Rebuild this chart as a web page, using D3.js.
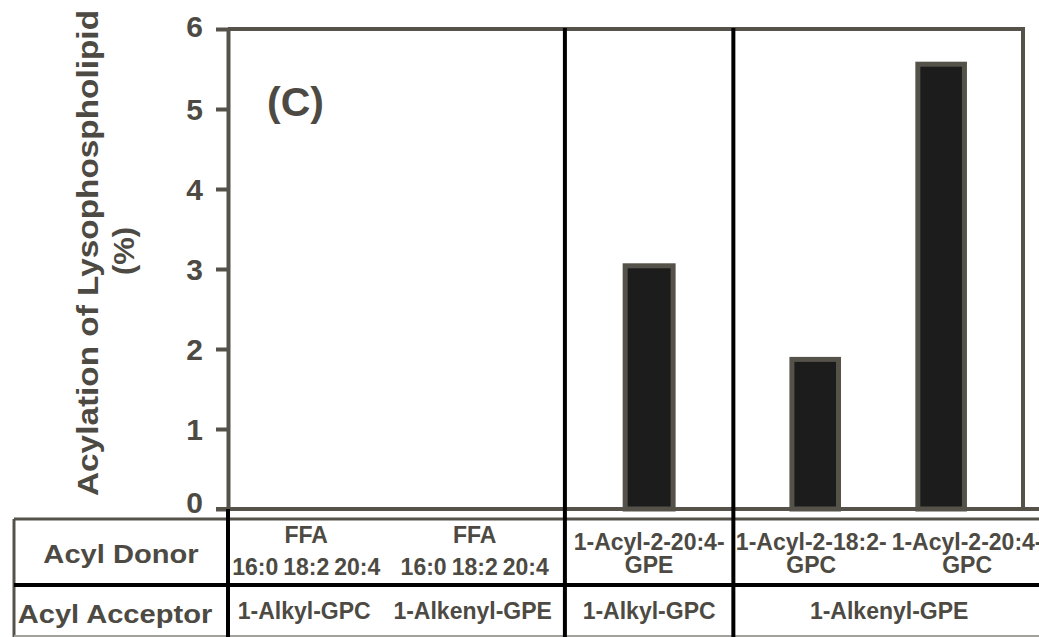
<!DOCTYPE html>
<html>
<head>
<meta charset="utf-8">
<script src="https://cdnjs.cloudflare.com/ajax/libs/d3/7.8.5/d3.min.js"></script>
<style>
  html, body { margin: 0; padding: 0; background: #fff; }
  svg { display: block; }
  text { font-family: "Liberation Sans", Arial, Helvetica, sans-serif; font-weight: bold; fill: #4d4a43; }
</style>
</head>
<body>
<script>
// one entry per acceptor section, left to right
var acceptors = ["1-Alkyl-GPC", "1-Alkenyl-GPE", "1-Alkyl-GPC", "1-Alkenyl-GPE"];
var donorHeads = ["FFA", "FFA", "", ""];
var donors = [
  ["16:0", "18:2", "20:4"],
  ["16:0", "18:2", "20:4"],
  ["1-Acyl-2-20:4-GPE"],
  ["1-Acyl-2-18:2-GPC", "1-Acyl-2-20:4-GPC"]
];
var values = [
  [0, 0, 0],
  [0, 0, 0],
  [3.04],
  [1.87, 5.56]
];
var yTicks = [0, 1, 2, 3, 4, 5, 6];
var rowHeads = ["Acyl Donor", "Acyl Acceptor"];
var yTitle = "Acylation of Lysophospholipid",
    yUnit = "(%)",
    panelLabel = "(C)";

var width = 1039, height = 637,
    plotLeft = 228, plotRight = 1023, plotTop = 29, plotBottom = 509,
    tableLeft = 14, tableRight = 1045, tableTop = 519, rowSplit = 585, tableBottom = 636,
    sectionWeights = [1, 1, 1, 1.85],
    grey = "#55524a", ink = "#4d4a43";

var svg = d3.select("body").append("svg")
    .attr("width", width)
    .attr("height", height);

var y = d3.scaleLinear().domain([0, 6]).range([plotBottom, plotTop]);

var edges = [0].concat(Array.from(d3.cumsum(sectionWeights)));
var xs = d3.scaleLinear().domain([0, d3.sum(sectionWeights)]).range([plotLeft, tableRight]);

var sections = acceptors.map(function(a, i) {
  var x0 = xs(edges[i]), x1 = xs(edges[i + 1]);
  return {
    acceptor: a,
    head: donorHeads[i],
    donors: donors[i],
    values: values[i],
    x0: x0, x1: x1,
    bars: d3.scaleBand().domain(donors[i]).range([x0, Math.min(x1, plotRight)])
            .paddingInner(0.63).paddingOuter(0.465),
    cells: d3.scaleBand().domain(donors[i]).range([x0, x1])
  };
});

var bars = [];
sections.forEach(function(s) {
  s.donors.forEach(function(d, j) {
    if (s.values[j] > 0) bars.push({x: s.bars(d), w: s.bars.bandwidth(), v: s.values[j]});
  });
});

// bars
svg.append("g").selectAll("rect")
  .data(bars)
  .enter().append("rect")
  .attr("x", function(d) { return d.x; })
  .attr("y", function(d) { return y(d.v); })
  .attr("width", function(d) { return d.w; })
  .attr("height", function(d) { return y(0) - y(d.v); })
  .attr("fill", "#1c1c1c")
  .attr("stroke", grey)
  .attr("stroke-width", 5);

// plot frame
var frame = svg.append("g").attr("stroke", grey).attr("stroke-width", 4);
frame.append("line").attr("x1", plotLeft).attr("x2", plotRight + 2).attr("y1", plotTop).attr("y2", plotTop);
frame.append("line").attr("x1", plotRight).attr("x2", plotRight).attr("y1", plotTop).attr("y2", plotBottom);
frame.append("line").attr("x1", plotLeft - 12).attr("x2", width).attr("y1", y(0)).attr("y2", y(0));

// y axis
var yAxis = d3.axisLeft(y)
  .tickValues(yTicks)
  .tickSize(12)
  .tickSizeOuter(0)
  .tickPadding(13)
  .tickFormat(d3.format("d"));

var gy = svg.append("g")
  .attr("transform", "translate(" + plotLeft + ",0)")
  .call(yAxis);
gy.select(".domain").attr("stroke", grey).attr("stroke-width", 4);
gy.selectAll(".tick line").attr("stroke", grey).attr("stroke-width", 4);
gy.selectAll(".tick text")
  .style("font-size", "30px")
  .attr("fill", ink)
  .attr("dy", function(d) { return d === 0 ? "0.1em" : d === 6 ? "0.25em" : "0.35em"; });

// axis title
svg.append("text")
  .attr("transform", "translate(98," + 253 + ") rotate(-90) scale(1.15,1)")
  .attr("text-anchor", "middle")
  .style("font-size", "29px")
  .text(yTitle);
svg.append("text")
  .attr("transform", "translate(134," + 251 + ") rotate(-90) scale(1.07,1)")
  .attr("text-anchor", "middle")
  .style("font-size", "29px")
  .text(yUnit);

svg.append("text")
  .attr("x", 267)
  .attr("y", 116)
  .style("font-size", "41px")
  .text(panelLabel);

// table lines
var tl = svg.append("g");
tl.append("line").attr("x1", tableLeft).attr("x2", width).attr("y1", tableTop).attr("y2", tableTop)
  .attr("stroke", grey).attr("stroke-width", 3);
tl.append("line").attr("x1", tableLeft).attr("x2", tableLeft).attr("y1", tableTop).attr("y2", height)
  .attr("stroke", grey).attr("stroke-width", 3);
tl.append("line").attr("x1", tableLeft).attr("x2", width).attr("y1", tableBottom).attr("y2", tableBottom)
  .attr("stroke", "#a3a19b").attr("stroke-width", 2);
tl.append("line").attr("x1", tableLeft).attr("x2", width).attr("y1", rowSplit).attr("y2", rowSplit)
  .attr("stroke", "#000").attr("stroke-width", 4);
tl.append("line").attr("x1", plotLeft).attr("x2", plotLeft).attr("y1", plotBottom).attr("y2", height)
  .attr("stroke", "#000").attr("stroke-width", 4);
tl.selectAll("line.sep")
  .data(sections.slice(2))
  .enter().append("line")
  .attr("class", "sep")
  .attr("x1", function(d) { return d.x0; })
  .attr("x2", function(d) { return d.x0; })
  .attr("y1", plotTop - 1)
  .attr("y2", height)
  .attr("stroke", "#000")
  .attr("stroke-width", 4);

// row headers
svg.selectAll("text.rowhead")
  .data(rowHeads)
  .enter().append("text")
  .attr("class", "rowhead")
  .attr("transform", function(d, i) {
    return "translate(" + ((tableLeft + plotLeft) / 2 - i * 6) + "," + (i ? 623 : 563) + ") scale(1.12,1)";
  })
  .attr("text-anchor", "middle")
  .style("font-size", "26px")
  .text(function(d) { return d; });

// donor cells
var cell = svg.append("g").style("font-size", "23px").attr("text-anchor", "middle");
sections.forEach(function(s) {
  var mid = (s.x0 + s.x1) / 2;
  if (s.head) {
    cell.append("text").attr("x", mid - 6).attr("y", 543).text(s.head);
    s.donors.forEach(function(d) {
      cell.append("text").attr("x", s.bars(d) + s.bars.bandwidth() / 2 - 6).attr("y", 575).text(d);
    });
  } else {
    s.donors.forEach(function(d) {
      var cut = d.lastIndexOf("-") + 1,
          cx = s.cells(d) + s.cells.bandwidth() / 2;
      cell.append("text").attr("x", cx).attr("y", 550).text(d.slice(0, cut));
      cell.append("text").attr("x", cx).attr("y", 573).text(d.slice(cut));
    });
  }
  cell.append("text").attr("x", mid - (s.head ? 8 : 0)).attr("y", 619).text(s.acceptor);
});
</script>
</body>
</html>
